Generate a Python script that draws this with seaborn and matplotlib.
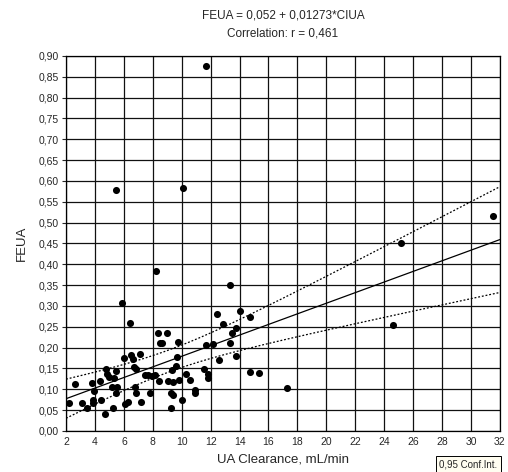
import numpy as np
import pandas as pd
import matplotlib
matplotlib.use("Agg")
import matplotlib.pyplot as plt
from matplotlib.ticker import FuncFormatter
import seaborn as sns

# UA clearance (mL/min) and fractional excretion of uric acid
clua = [11.65, 5.43, 10.11, 8.22, 5.85, 6.42, 13.34, 12.41, 14.03, 14.72,
        12.88, 13.75, 13.47, 8.34, 8.96, 8.50, 8.66, 9.74, 11.65, 12.14,
        13.34, 13.73, 12.58, 9.70, 9.58, 9.30, 7.14, 6.49, 6.03, 6.65,
        6.72, 6.84, 4.74, 5.44, 4.83, 4.97, 5.34, 4.35, 3.77, 2.64,
        3.91, 5.16, 5.55, 5.45, 6.77, 6.84, 7.46, 7.69, 7.92, 8.15,
        8.43, 9.07, 9.42, 9.80, 10.30, 10.55, 11.54, 11.82, 11.79, 10.94,
        10.94, 9.26, 9.42, 9.99, 9.26, 7.81, 7.18, 6.31, 6.08, 5.22,
        4.70, 4.43, 3.89, 3.89, 3.43, 3.11, 2.19, 14.72, 15.34, 17.30,
        24.58, 25.13, 31.54]
feua = [0.876, 0.578, 0.584, 0.384, 0.308, 0.258, 0.350, 0.280, 0.288, 0.273,
        0.256, 0.247, 0.234, 0.236, 0.236, 0.210, 0.212, 0.213, 0.207, 0.208,
        0.210, 0.180, 0.170, 0.177, 0.155, 0.147, 0.185, 0.182, 0.174, 0.172,
        0.154, 0.148, 0.148, 0.144, 0.136, 0.130, 0.128, 0.121, 0.114, 0.112,
        0.097, 0.106, 0.106, 0.090, 0.106, 0.090, 0.135, 0.135, 0.132, 0.135,
        0.121, 0.120, 0.118, 0.122, 0.136, 0.123, 0.148, 0.137, 0.126, 0.098,
        0.090, 0.092, 0.086, 0.074, 0.054, 0.090, 0.069, 0.070, 0.065, 0.054,
        0.040, 0.074, 0.074, 0.066, 0.054, 0.066, 0.066, 0.142, 0.140, 0.104,
        0.254, 0.452, 0.516]

# Fitted regression: FEUA = 0.052 + 0.01273 * CIUA
intercept = 0.052
slope = 0.01273
r_value = 0.461

x_ticks = list(range(2, 33, 2))
y_ticks = [round(0.05 * i, 2) for i in range(19)]

df = pd.DataFrame({"CIUA": clua, "FEUA": feua})

# regression line and 95% confidence band for the mean
xs = np.linspace(2, 32, 200)
fit = intercept + slope * xs
x_arr = np.asarray(clua)
resid = np.asarray(feua) - (intercept + slope * x_arr)
n = len(x_arr)
s = np.sqrt(np.sum(resid ** 2) / (n - 2))
sxx = np.sum((x_arr - x_arr.mean()) ** 2)
half = 1.99 * s * np.sqrt(1.0 / n + (xs - x_arr.mean()) ** 2 / sxx)
band = pd.DataFrame({"x": xs, "fit": fit, "lo": fit - half, "hi": fit + half})

sns.set_theme(style="white")
plt.rcParams["font.family"] = ["Liberation Sans", "DejaVu Sans"]

fig = plt.figure(figsize=(5.08, 4.72), dpi=100)
ax = fig.add_axes([0.130, 0.0869, 0.854, 0.7945])

ax.grid(True, color="#111111", linewidth=0.9)
ax.set_axisbelow(True)

sns.lineplot(data=band, x="x", y="fit", ax=ax, color="black", linewidth=0.9)
sns.lineplot(data=band, x="x", y="lo", ax=ax, color="black", linewidth=0.9,
             linestyle=(0, (1.5, 1.5)))
sns.lineplot(data=band, x="x", y="hi", ax=ax, color="black", linewidth=0.9,
             linestyle=(0, (1.5, 1.5)))
sns.scatterplot(data=df, x="CIUA", y="FEUA", ax=ax, color="black", s=26,
                edgecolor="black", linewidth=0, zorder=5)

ax.set_xlim(2, 32)
ax.set_ylim(0, 0.9)
ax.set_xticks(x_ticks)
ax.set_yticks(y_ticks)
ax.xaxis.set_major_formatter(FuncFormatter(lambda v, p: f"{v:.0f}"))
ax.yaxis.set_major_formatter(FuncFormatter(lambda v, p: f"{v:.2f}".replace(".", ",")))
ax.tick_params(axis="x", length=0, pad=4, labelsize=7.5)
ax.tick_params(axis="y", length=3, width=0.8, direction="out", pad=2,
               labelsize=7.5, left=True)
for sp in ax.spines.values():
    sp.set_color("black")
    sp.set_linewidth(0.9)

ax.set_xlabel("UA Clearance, mL/min", fontsize=9.5, labelpad=5)
ax.set_ylabel("FEUA", fontsize=9.5, labelpad=8)

fig.text(0.557, 0.968, "FEUA = 0,052 + 0,01273*CIUA", ha="center", va="center",
         fontsize=8.5)
fig.text(0.557, 0.929, f"Correlation: r = {r_value:.3f}".replace(".", ","),
         ha="center", va="center", fontsize=8.5)

fig.text(0.865, 0.0165, "0,95 Conf.Int.", ha="left", va="center", fontsize=7,
         bbox=dict(boxstyle="square,pad=0.35", facecolor="#fffdf0",
                   edgecolor="black", linewidth=0.7))

fig.savefig("out.png", dpi=100)
